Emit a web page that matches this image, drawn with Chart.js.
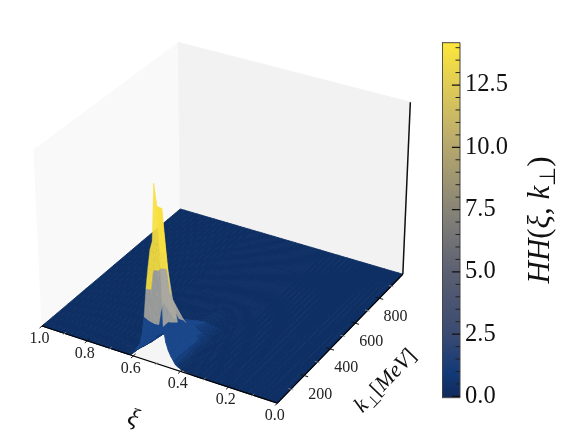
<!DOCTYPE html>
<html>
<head>
<meta charset="utf-8">
<title>HH surface</title>
<script src="https://cdn.jsdelivr.net/npm/chart.js@4"></script>
<style>
  body { margin: 0; background: #fff; }
  #wrap { position: relative; width: 569px; height: 441px; overflow: hidden; }
  #surface { position: absolute; left: 0; top: 0; }
  #cbar { position: absolute; left: 442px; top: 20px; }
</style>
</head>
<body>
<div id="wrap">
  <canvas id="surface" width="569" height="441"></canvas>
  <canvas id="cbar" width="127" height="421"></canvas>
</div>
<script>
// outer parts of the surface are flat, only the columns in peakXi carry values
const outerXiHigh = [1, 0.98, 0.96, 0.94, 0.92, 0.9, 0.88, 0.86, 0.84, 0.82, 0.8, 0.78, 0.76, 0.74, 0.72, 0.7, 0.68];
const peakXi = [0.66, 0.65, 0.64, 0.63, 0.62, 0.61, 0.6, 0.59, 0.58, 0.57, 0.56, 0.55, 0.54, 0.53, 0.52, 0.51, 0.5,
  0.49, 0.48, 0.47, 0.46, 0.45, 0.44, 0.43, 0.42, 0.41, 0.4, 0.39, 0.38, 0.37, 0.36, 0.35, 0.34];
const outerXiLow = [0.32, 0.3, 0.28, 0.26, 0.24, 0.22, 0.2, 0.18, 0.16, 0.14, 0.12, 0.1, 0.08, 0.06, 0.04, 0.02, 0];
const kGrid = [0, 35, 70, 100, 175, 220, 300, 400, 500, 600, 700, 800, 900, 1000];

// HH read along the ridge, one list per k row, same order as peakXi
const hhK0 = [0, 0, 0, 0, 0, 0.05, 0.3, 0.6, 0.9, 1.2, 2, 3.5, 5.8, 7.5, 9, 9.7, 14.2, 12.5, 9.2, 3.2, 2, 1.4, 1, 0.7, 0.4, 0.3, 0.2, 0.15, 0.1, 0.07, 0.05, 0.02, 0];
const hhK35 = [0, 0, 0, 0, 0, 0, 0.2, 0.4, 0.6, 0.9, 1.5, 2.8, 5.4, 7, 8.3, 9, 10.5, 12, 8.5, 3.2, 2, 1.4, 1, 0.7, 0.45, 0.3, 0.2, 0.15, 0.1, 0.05, 0.02, 0, 0];
const hhK70 = [0, 0, 0, 0, 0, 0, 0.05, 0.2, 0.4, 0.7, 1.2, 2.2, 4, 6.6, 6.8, 6.9, 6.9, 6.9, 5, 2.8, 1.8, 1.3, 0.9, 0.65, 0.45, 0.3, 0.2, 0.15, 0.1, 0.05, 0.02, 0, 0];
const hhK100 = [0, 0, 0, 0, 0, 0, 0, 0.1, 0.25, 0.5, 0.9, 1.8, 3, 3.8, 4, 4.2, 4.2, 4.2, 3.6, 2.5, 1.6, 1.2, 0.9, 0.6, 0.45, 0.3, 0.2, 0.15, 0.1, 0.05, 0.02, 0, 0];
const hhK175 = [0, 0, 0, 0, 0, 0, 0, 0, 0.05, 0.2, 0.4, 0.8, 1.3, 1.6, 1.7, 1.75, 1.75, 1.75, 1.6, 1.4, 1.1, 0.9, 0.7, 0.55, 0.45, 0.3, 0.2, 0.15, 0.1, 0.05, 0.02, 0, 0];
const hhK220 = [0, 0, 0, 0, 0, 0, 0, 0, 0, 0, 0.2, 0.6, 0.9, 1, 1.1, 1.2, 1.2, 1.2, 1.1, 0.9, 0.7, 0.6, 0.5, 0.45, 0.35, 0.3, 0.2, 0.15, 0.1, 0.05, 0.02, 0, 0];
const hhK300 = [0, 0, 0, 0, 0, 0, 0, 0, 0, 0, 0, 0, 0.05, 0.1, 0.15, 0.2, 0.3, 0.3, 0.35, 0.35, 0.35, 0.3, 0.3, 0.25, 0.25, 0.2, 0.2, 0.1, 0.1, 0.05, 0, 0, 0];
const hhK400 = [0, 0, 0, 0, 0, 0, 0, 0, 0, 0, 0, 0, 0, 0, 0, 0, 0.05, 0.05, 0.1, 0.1, 0.1, 0.1, 0.1, 0.1, 0.05, 0.05, 0.05, 0.02, 0.02, 0, 0, 0, 0];
const hhRows = [hhK0, hhK35, hhK70, hhK100, hhK175, hhK220, hhK300, hhK400];

const xiTickLabels = [1.0, 0.8, 0.6, 0.4, 0.2, 0.0];
const xiMinorTicks = [0.9, 0.7, 0.5, 0.3, 0.1];
const kTickLabels = [200, 400, 600, 800];
const kMinorTicks = [100, 300, 500, 700, 900];
const cbMajorTicks = [0, 2.5, 5, 7.5, 10, 12.5];
const cbMinorTicks = [0.5, 1, 1.5, 2, 3, 3.5, 4, 4.5, 5.5, 6, 6.5, 7, 8, 8.5, 9, 9.5, 10.5, 11, 11.5, 12, 13, 13.5, 14];
const cbColors = ['#10295c', '#123a78', '#3a4a72', '#5a5f72', '#807e78', '#c0b06a', '#e0cc55', '#fde63a'];
const cbStops = [0, 0.07, 0.18, 0.35, 0.5, 0.75, 0.88, 1];

const zTop = 14.3;
const zPane = 14.1;
const cbMin = -0.05;
const cbMax = 14.2;

// same camera as a default mplot3d axes (elev 30, azim -60)
const box = [1.143, 1.143, 0.857];
const camDist = 10;
function project(xi, k, z) {
  const px = (1 - xi - 0.5) * box[0];
  const py = (k / 1000 - 0.5) * box[1];
  const pz = (z / zTop - 0.5) * box[2];
  const X = 0.866 * px + 0.5 * py;
  const Y = -0.25 * px + 0.433 * py + 0.866 * pz;
  const d = 0.433 * px - 0.75 * py + 0.5 * pz;
  const f = camDist / (camDist - d);
  return { x: 225.6 + 236 * X * f, y: 213.2 - 238 * Y * f, d: d };
}

const xiGrid = outerXiHigh.concat(peakXi, outerXiLow);
function hhAt(i, j) {
  const c = i - outerXiHigh.length;
  if (j >= hhRows.length || c < 0 || c >= peakXi.length) return 0;
  return hhRows[j][c];
}

// the facets read as three flat bands in the picture, so colour by band
function faceColor(z) {
  if (z >= 6.3) return 'rgba(248,224,64,0.92)';
  if (z >= 2.7) return 'rgba(172,170,160,0.88)';
  if (z >= 0.6) return 'rgb(26,70,138)';
  const t = Math.max(0, (z - 0.15) / 0.45);
  return 'rgb(' + Math.round(14 + 8 * t) + ',' + Math.round(47 + 16 * t) + ',' + Math.round(99 + 28 * t) + ')';
}

function polygon(corners, color, stroke) {
  const pts = corners.map(c => project(c[0], c[1], c[2]));
  const data = pts.concat([pts[0]]).map(p => ({ x: p.x, y: p.y }));
  return {
    data: data,
    showLine: true,
    fill: 'shape',
    backgroundColor: color,
    borderColor: color,
    borderWidth: stroke,
    pointRadius: 0,
    tension: 0
  };
}

function segment(a, b, color, width) {
  const p = project(a[0], a[1], a[2]);
  const q = project(b[0], b[1], b[2]);
  return {
    data: [{ x: p.x, y: p.y }, { x: q.x, y: q.y }],
    showLine: true,
    fill: false,
    borderColor: color,
    borderWidth: width,
    pointRadius: 0
  };
}

// facets back to front
const facets = [];
for (let i = 0; i < xiGrid.length - 1; i++) {
  for (let j = 0; j < kGrid.length - 1; j++) {
    const z = [hhAt(i, j), hhAt(i + 1, j), hhAt(i + 1, j + 1), hhAt(i, j + 1)];
    const corners = [
      [xiGrid[i], kGrid[j], z[0]],
      [xiGrid[i + 1], kGrid[j], z[1]],
      [xiGrid[i + 1], kGrid[j + 1], z[2]],
      [xiGrid[i], kGrid[j + 1], z[3]]
    ];
    const depth = corners.reduce((s, c) => s + project(c[0], c[1], c[2]).d, 0) / 4;
    const mean = (z[0] + z[1] + z[2] + z[3]) / 4;
    facets.push({ depth: depth, ds: polygon(corners, faceColor(mean), mean < 2.7 ? 0.9 : 0.4) });
  }
}
facets.sort((a, b) => a.depth - b.depth);

const backToFront = [
  polygon([[1, 0, 0], [1, 1000, 0], [1, 1000, zPane], [1, 0, zPane]], '#f9f9f9', 1),
  polygon([[1, 1000, 0], [0, 1000, 0], [0, 1000, zPane], [1, 1000, zPane]], '#f2f2f2', 1),
  polygon([[1, 0, 0], [0, 0, 0], [0, 1000, 0], [1, 1000, 0]], '#f5f5f5', 1)
];
facets.forEach(f => backToFront.push(f.ds));

backToFront.push(segment([1, 0, 0], [0, 0, 0], '#000', 1.2));
backToFront.push(segment([0, 0, 0], [0, 1000, 0], '#000', 1.2));
backToFront.push(segment([0, 1000, 0], [0, 1000, zPane], '#111', 1.5));
xiTickLabels.forEach(v => backToFront.push(segment([v, -16, 0], [v, 16, 0], '#111', 1)));
xiMinorTicks.forEach(v => backToFront.push(segment([v, -10, 0], [v, 10, 0], '#999', 0.8)));
kTickLabels.forEach(v => backToFront.push(segment([0.016, v, 0], [-0.016, v, 0], '#111', 1)));
kMinorTicks.forEach(v => backToFront.push(segment([0.01, v, 0], [-0.01, v, 0], '#999', 0.8)));

// chart.js paints the first dataset last
const datasets = backToFront.slice().reverse();

// math text with a small subscript, baseline at 0
function mathText(ctx, parts, size) {
  let w = 0;
  parts.forEach(part => {
    ctx.font = part.font + ' ' + (part.sub ? size * 0.7 : size) + 'px "Liberation Serif"';
    w += ctx.measureText(part.t).width;
  });
  let x = -w / 2;
  parts.forEach(part => {
    ctx.font = part.font + ' ' + (part.sub ? size * 0.7 : size) + 'px "Liberation Serif"';
    ctx.fillText(part.t, x, part.sub ? size * 0.2 : 0);
    x += ctx.measureText(part.t).width;
  });
}

function placed(ctx, x, y, deg, parts, size) {
  ctx.save();
  ctx.translate(x, y);
  ctx.rotate(deg * Math.PI / 180);
  ctx.textBaseline = 'alphabetic';
  ctx.textAlign = 'left';
  ctx.fillStyle = '#111';
  mathText(ctx, parts, size);
  ctx.restore();
}

const labelPlugin = {
  id: 'axisText',
  afterDraw(chart) {
    const ctx = chart.ctx;
    ctx.save();
    ctx.fillStyle = '#222';
    ctx.font = '16px "Liberation Serif"';
    ctx.textAlign = 'center';
    ctx.textBaseline = 'middle';
    xiTickLabels.forEach(v => {
      const p = project(v, 0, 0);
      ctx.fillText(v.toFixed(1), p.x - 2.5, p.y + 12.5);
    });
    kTickLabels.forEach(v => {
      const p = project(0, v, 0);
      ctx.fillText(String(v), p.x + 16, p.y + 19);
    });
    ctx.restore();
    placed(ctx, 131, 425, 18, [{ t: 'ξ', font: 'italic' }], 25);
    placed(ctx, 390, 385, -46, [
      { t: 'k', font: 'italic' }, { t: '⊥', font: '', sub: true }, { t: '[', font: '' },
      { t: 'MeV', font: 'italic' }, { t: ']', font: '' }
    ], 22);
    placed(ctx, 549, 220, -90, [
      { t: 'HH', font: 'italic' }, { t: '(', font: '' }, { t: 'ξ, k', font: 'italic' },
      { t: '⊥', font: '', sub: true }, { t: ')', font: '' }
    ], 31);
  }
};

new Chart(document.getElementById('surface'), {
  type: 'scatter',
  data: { datasets: datasets },
  options: {
    responsive: false,
    animation: false,
    layout: { padding: 0 },
    plugins: { legend: { display: false }, tooltip: { enabled: false } },
    scales: {
      x: { type: 'linear', min: 0, max: 569, display: false },
      y: { type: 'linear', min: 0, max: 441, reverse: true, display: false }
    }
  },
  plugins: [labelPlugin]
});

// colour bar
const cbCanvas = document.getElementById('cbar');
const cbGradient = cbCanvas.getContext('2d').createLinearGradient(0, 377.7, 0, 22.7);
cbStops.forEach((t, i) => cbGradient.addColorStop(t, cbColors[i]));

function cbTick(v, from, color, width) {
  return {
    data: [{ x: from, y: v }, { x: 1, y: v }],
    showLine: true,
    fill: false,
    borderColor: color,
    borderWidth: width,
    pointRadius: 0
  };
}

const cbDatasets = [];
cbMajorTicks.forEach(v => cbDatasets.push(cbTick(v, 0.55, '#111', 1.2)));
cbMinorTicks.forEach(v => cbDatasets.push(cbTick(v, 0.75, '#222', 1)));
cbDatasets.push({
  data: [{ x: 0, y: cbMin }, { x: 1, y: cbMin }, { x: 1, y: cbMax }, { x: 0, y: cbMax }, { x: 0, y: cbMin }],
  showLine: true,
  fill: 'shape',
  backgroundColor: cbGradient,
  borderColor: '#444',
  borderWidth: 1,
  pointRadius: 0,
  clip: false
});

new Chart(cbCanvas, {
  type: 'scatter',
  data: { datasets: cbDatasets },
  options: {
    responsive: false,
    animation: false,
    layout: { padding: { top: 22.7, bottom: 43.3, left: 0, right: 0 } },
    plugins: { legend: { display: false }, tooltip: { enabled: false } },
    scales: {
      x: { type: 'linear', min: 0, max: 1, display: false },
      y: {
        type: 'linear',
        position: 'right',
        min: cbMin,
        max: cbMax,
        grid: { display: false, drawTicks: false },
        border: { display: false },
        afterBuildTicks(scale) { scale.ticks = cbMajorTicks.map(v => ({ value: v })); },
        afterFit(scale) { scale.width = 109; },
        ticks: {
          padding: 5,
          color: '#111',
          autoSkip: false,
          font: { family: 'Liberation Serif', size: 24.5 },
          callback: v => v.toFixed(1)
        }
      }
    }
  }
});
</script>
</body>
</html>
